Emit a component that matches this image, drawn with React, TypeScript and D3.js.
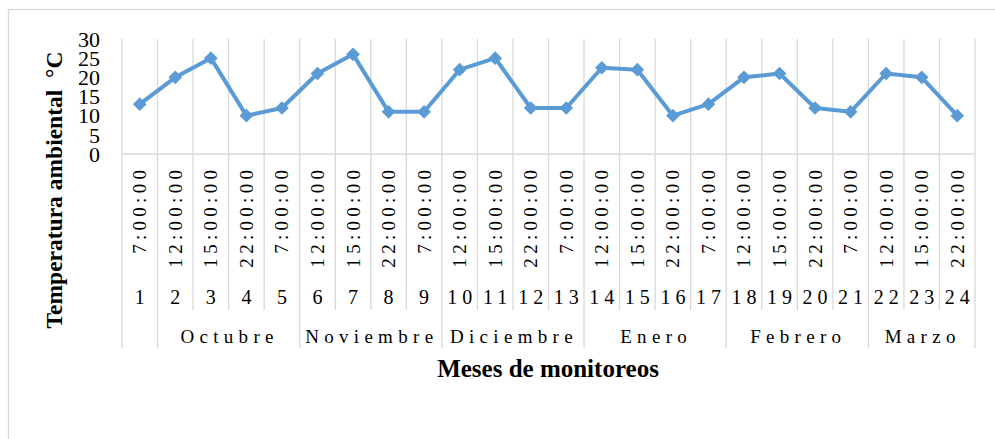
import * as d3 from "d3";

// datos del monitoreo
const indices = [1, 2, 3, 4, 5, 6, 7, 8, 9, 10, 11, 12, 13, 14, 15, 16, 17, 18, 19, 20, 21, 22, 23, 24];
const horas = [
  "7:00:00", "12:00:00", "15:00:00", "22:00:00",
  "7:00:00", "12:00:00", "15:00:00", "22:00:00",
  "7:00:00", "12:00:00", "15:00:00", "22:00:00",
  "7:00:00", "12:00:00", "15:00:00", "22:00:00",
  "7:00:00", "12:00:00", "15:00:00", "22:00:00",
  "7:00:00", "12:00:00", "15:00:00", "22:00:00",
];
const temperaturas = [13, 20, 25, 10, 12, 21, 26, 11, 11, 22, 25, 12, 12, 22.5, 22, 10, 13, 20, 21, 12, 11, 21, 20, 10];
const meses = ["", "Octubre", "Noviembre", "Diciembre", "Enero", "Febrero", "Marzo"];
const mesesCantidad = [1, 4, 4, 4, 4, 4, 3];
const yTicks = [0, 5, 10, 15, 20, 25, 30];

const W = 995;
const H = 439;
const FONT = "'Liberation Serif', 'Times New Roman', serif";
const GRID = "#d9d9d9";
const BLUE = "#5b9bd5";

export default function App() {
  const left = 122;
  const right = 975;
  const top = 39;
  const bottom = 154;

  const x = d3.scaleBand<number>().domain(indices).range([left, right]);
  const y = d3.scaleLinear().domain([0, 30]).range([bottom, top]);
  const bw = x.bandwidth();
  const cx = (i: number) => (x(i) as number) + bw / 2;

  const line = d3
    .line<number>()
    .x((_, i) => cx(indices[i]))
    .y((d) => y(d));

  // limites de los grupos de meses
  const groupStarts: number[] = [];
  let acc = 0;
  mesesCantidad.forEach((n) => {
    groupStarts.push(acc);
    acc += n;
  });
  const monthBoundary = new Set(groupStarts.concat([indices.length]));

  const diamond = d3.symbol().type(d3.symbolDiamond2).size(120)();

  return (
    <svg width={W} height={H} style={{ position: "absolute", left: 0, top: 0, background: "#fff" }}>
      <rect x={8.5} y={9.5} width={1100} height={500} fill="#fff" stroke={GRID} strokeWidth={1.3} />

      {/* lineas verticales */}
      {d3.range(indices.length + 1).map((k) => {
        const xx = left + k * bw;
        const end = monthBoundary.has(k) ? 348 : 310;
        return <line key={k} x1={xx} x2={xx} y1={top} y2={end} stroke={GRID} strokeWidth={1.3} />;
      })}
      <line x1={left} x2={right} y1={bottom} y2={bottom} stroke={GRID} strokeWidth={1.3} />

      {/* eje y */}
      {yTicks.map((t) => (
        <text key={t} x={100} y={y(t)} dy="0.35em" textAnchor="end" fontFamily={FONT} fontSize={22} fill="#000">
          {t}
        </text>
      ))}

      {/* horas */}
      {indices.map((d, i) => (
        <text
          key={"h" + d}
          transform={`translate(${cx(d) + 6.5},${170}) rotate(-90)`}
          textAnchor="end"
          fontFamily={FONT}
          fontSize={19}
          letterSpacing={4.3}
          dx={4.3}
          fill="#000"
        >
          {horas[i]}
        </text>
      ))}

      {/* numeros */}
      {indices.map((d) => (
        <text key={"n" + d} x={cx(d) + 2.5} y={304} textAnchor="middle" fontFamily={FONT} fontSize={20} letterSpacing={5} fill="#000">
          {d}
        </text>
      ))}

      {/* meses */}
      {meses.map((m, g) => {
        const s = left + groupStarts[g] * bw;
        const e = s + mesesCantidad[g] * bw;
        return (
          <text key={"m" + g} x={(s + e) / 2 + 1} y={343} textAnchor="middle" fontFamily={FONT} fontSize={19} letterSpacing={5.3} fill="#000">
            {m}
          </text>
        );
      })}

      {/* serie */}
      <path d={line(temperaturas) || ""} fill="none" stroke={BLUE} strokeWidth={4} strokeLinejoin="round" />
      {temperaturas.map((v, i) => (
        <path key={"p" + i} d={diamond || ""} transform={`translate(${cx(indices[i])},${y(v)})`} fill={BLUE} />
      ))}

      {/* titulos */}
      <text x={548} y={377} textAnchor="middle" fontFamily={FONT} fontSize={25} fontWeight="bold" fill="#000">
        Meses de monitoreos
      </text>
      <text
        transform="translate(62,190) rotate(-90)"
        textAnchor="middle"
        fontFamily={FONT}
        fontSize={23.5}
        fontWeight="bold"
        fill="#000"
        style={{ whiteSpace: "pre" }}
      >
        {"Temperatura ambiental  °C"}
      </text>
    </svg>
  );
}
